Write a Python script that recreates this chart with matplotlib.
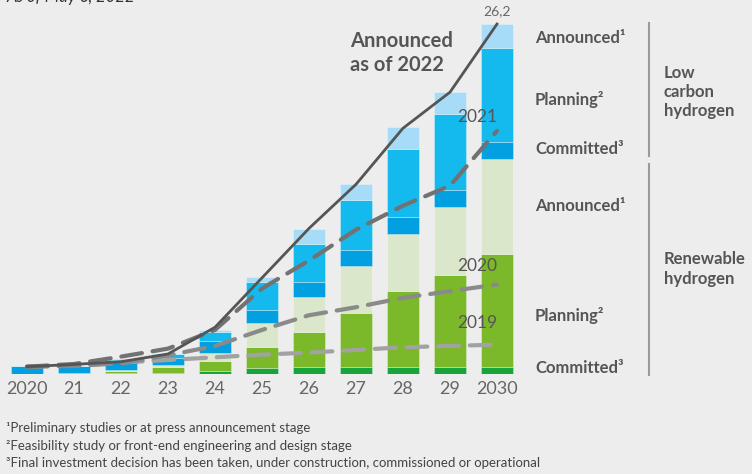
import numpy as np
import matplotlib.pyplot as plt

# ─── Data (million tonnes) ────────────────────────────────────────────────────
years = ['2020', '21', '22', '23', '24', '25', '26', '27', '28', '29', '2030']

ren_committed = [0.0, 0.03, 0.1, 0.1, 0.2, 0.47, 0.5, 0.55, 0.55, 0.55, 0.55]
ren_planning  = [0.0, 0.05, 0.15, 0.4, 0.8, 1.57, 2.62, 4.04, 5.67, 6.89, 8.43]
ren_announced = [0.0, 0.0, 0.02, 0.17, 0.58, 1.8, 2.67, 3.52, 4.27, 5.07, 7.1]
lc_committed  = [0.6, 0.55, 0.75, 0.5, 0.87, 0.95, 1.1, 1.2, 1.3, 1.3, 1.3]
lc_planning   = [0.0, 0.0, 0.07, 0.3, 0.7, 2.12, 2.84, 3.72, 5.07, 5.64, 7.0]
lc_announced  = [0.0, 0.0, 0.0, 0.05, 0.17, 0.33, 1.1, 1.2, 1.6, 1.69, 1.82]

announced_2022 = [0.55, 0.72, 0.92, 1.5, 3.5, 7.2, 10.9, 14.2, 18.4, 21.1, 26.2]
outlook_2021   = [0.55, 0.75, 1.3, 1.9, 3.3, 6.4, 8.5, 10.8, 12.6, 14.1, 18.2]
outlook_2020   = [0.55, 0.6, 0.8, 1.4, 2.1, 3.3, 4.4, 5.0, 5.7, 6.2, 6.7]
outlook_2019   = [0.55, 0.65, 0.85, 1.05, 1.25, 1.45, 1.6, 1.8, 2.0, 2.1, 2.2]

segments = [
    (ren_committed, '#17a53b'),
    (ren_planning,  '#7bb82a'),
    (ren_announced, '#dbe7ca'),
    (lc_committed,  '#029fe1'),
    (lc_planning,   '#14b9ed'),
    (lc_announced,  '#a6dcf8'),
]

BG = '#ededed'
W, H = 752, 474


def fx(px):
    return px / W


def fy(py):
    return 1 - py / H


fig = plt.figure(figsize=(W / 100, H / 100), dpi=100, facecolor=BG)
ax = fig.add_axes([fx(3.5), 100 / H, 517 / W, 374 / H])
ax.set_facecolor(BG)

x = np.arange(len(years))
bottom = np.zeros(len(years))
for vals, col in segments:
    ax.bar(x, vals, width=0.7, bottom=bottom, color=col,
           edgecolor=(1, 1, 1, 0.35), linewidth=0.6, zorder=2)
    bottom += np.array(vals)

# ─── Outlook lines ────────────────────────────────────────────────────────────
dash = (0, (5.0, 2.6))
ax.plot(x, outlook_2019, color='#a2a2a2', lw=3, linestyle=dash,
        dash_capstyle='round', zorder=3)
ax.plot(x, outlook_2020, color='#8a8a8a', lw=3, linestyle=dash,
        dash_capstyle='round', zorder=3)
ax.plot(x, outlook_2021, color='#727272', lw=3, linestyle=dash,
        dash_capstyle='round', zorder=3)
ax.plot(x, announced_2022, color='#555555', lw=2, zorder=4,
        solid_joinstyle='round')

ax.set_xlim(-0.5, 10.5)
ax.set_ylim(0, 28)
for s in ax.spines.values():
    s.set_visible(False)
ax.set_yticks([])
ax.set_xticks(x)
ax.set_xticklabels(years, family='Lato', fontsize=13, color='#666666')
ax.tick_params(axis='x', length=0, pad=5)

# ─── Annotations ──────────────────────────────────────────────────────────────
ax.text(10, 26.75, '26,2', ha='center', va='bottom', family='Lato',
        fontsize=10, color='#666666')
for lab, py in [('2021', 117), ('2020', 266), ('2019', 323)]:
    fig.text(fx(497), fy(py), lab, ha='right', va='center',
             family='Lato', fontsize=12.5, color='#555555')
fig.text(fx(350), fy(53), 'Announced\nas of 2022', ha='left', va='center',
         family='Lato', fontweight='bold', fontsize=14.5, color='#555555',
         linespacing=1.25)

# ─── Right-hand legend ────────────────────────────────────────────────────────
right_labels = [
    ('Announced¹', 38), ('Planning²', 99), ('Committed³', 149),
    ('Announced¹', 206), ('Planning²', 316), ('Committed³', 368),
]
for lab, py in right_labels:
    fig.text(fx(535), fy(py), lab, ha='left', va='center', family='Lato',
             fontweight='bold', fontsize=12, color='#555555')

fig.add_artist(plt.Line2D([fx(649), fx(649)], [fy(23), fy(156)],
                          color='#9a9a9a', lw=1.5))
fig.add_artist(plt.Line2D([fx(649), fx(649)], [fy(164), fy(375)],
                          color='#9a9a9a', lw=1.5))
fig.text(fx(664), fy(92), 'Low\ncarbon\nhydrogen', ha='left', va='center',
         family='Lato', fontweight='bold', fontsize=12, color='#555555',
         linespacing=1.25)
fig.text(fx(664), fy(269), 'Renewable\nhydrogen', ha='left', va='center',
         family='Lato', fontweight='bold', fontsize=12, color='#555555',
         linespacing=1.25)

# ─── Header (cropped) and footnotes ───────────────────────────────────────────
fig.text(fx(7), fy(2), 'As of May 6, 2022', ha='left', va='baseline',
         family='Lato', style='italic', fontsize=12, color='#333333')

notes = [
    '¹Preliminary studies or at press announcement stage',
    '²Feasibility study or front-end engineering and design stage',
    '³Final investment decision has been taken, under construction, '
    'commissioned or operational',
]
for i, note in enumerate(notes):
    fig.text(fx(6), fy(428 + 17.5 * i), note, ha='left', va='center',
             family='Lato', fontsize=9.5, color='#444444')

fig.savefig('out.png', dpi=100, facecolor=BG)
